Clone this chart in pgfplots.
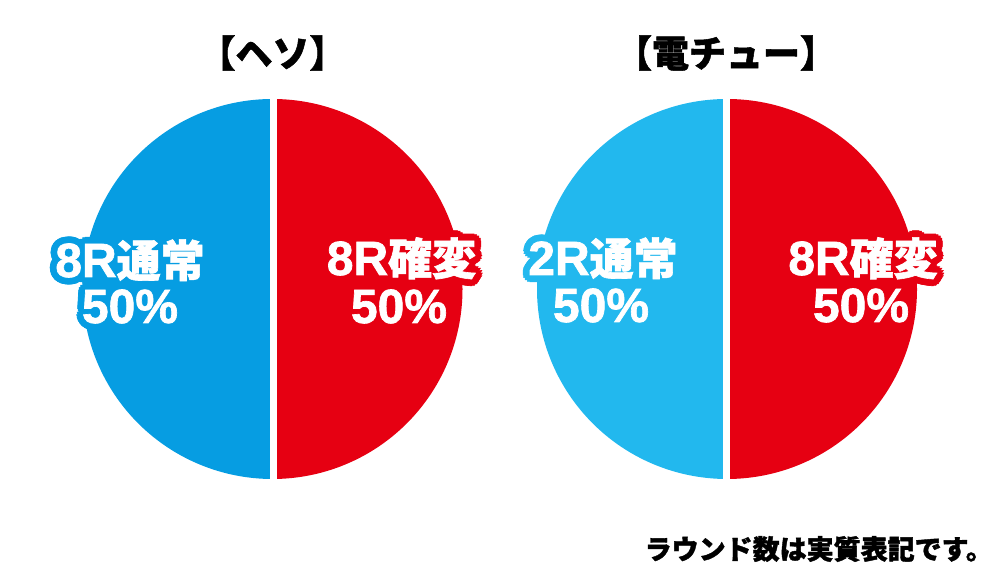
\documentclass[border=0pt]{standalone}
\usepackage{fontspec}
\usepackage{pgfplots}
\usepackage{pgfplotstable}
\pgfplotsset{compat=1.18}
\setmainfont{Noto Sans CJK JP}
\newfontfamily\jp{Noto Sans CJK JP}[BoldFeatures={FakeBold=1.4}]
\newfontfamily\lat{Liberation Sans}[BoldFeatures={FakeBold=1.4}]

\definecolor{hesoblue}{RGB}{6,157,226}
\definecolor{denblue}{RGB}{34,184,238}
\definecolor{kred}{RGB}{230,0,18}

% share of each slice in percent
\pgfplotstableread{
pie slice share
heso kakuhen 50
heso tsujo   50
den  kakuhen 50
den  tsujo   50
}\shares

\pgfplotstablegetelem{0}{share}\of\shares \let\hesoK\pgfplotsretval
\pgfplotstablegetelem{1}{share}\of\shares \let\hesoT\pgfplotsretval
\pgfplotstablegetelem{2}{share}\of\shares \let\denK\pgfplotsretval
\pgfplotstablegetelem{3}{share}\of\shares \let\denT\pgfplotsretval

% white text with an outline in colour #3, baseline at (#1,#2)
\newcommand\otext[4]{%
  \pgfplotsinvokeforeach{0,22.5,...,337.5}{%
    \node[anchor=base, text=#3, xshift={3.4pt*cos(##1)}, yshift={3.4pt*sin(##1)}]
      at (axis cs:#1,#2) {#4};
    \node[anchor=base, text=#3, xshift={1.7pt*cos(##1)}, yshift={1.7pt*sin(##1)}]
      at (axis cs:#1,#2) {#4};
  }
  \node[anchor=base, text=white] at (axis cs:#1,#2) {#4};
}
\newcommand\lab[2]{{\lat\bfseries\fontsize{24}{24}\selectfont #1}{\jp\bfseries\fontsize{22}{22}\selectfont #2}}
\newcommand\pct{{\lat\bfseries\fontsize{24}{24}\selectfont 50\%}}

\begin{document}
\begin{tikzpicture}
\begin{axis}[
  name=main,
  width=500pt, height=288.5pt, scale only axis,
  xmin=0, xmax=1000, ymin=0, ymax=577,
  hide axis, clip=false,
]
% left pie (center 272.5, 288)
\fill[kred] (axis cs:272.5,288) -- ++(90:95pt)
  arc[start angle=90, delta angle=-3.6*\hesoK, radius=95pt] -- cycle;
\fill[hesoblue] (axis cs:272.5,288) -- ++(90:95pt)
  arc[start angle=90, delta angle=3.6*\hesoT, radius=95pt] -- cycle;
\draw[white, line width=3.3pt] (axis cs:273.3,85) -- (axis cs:273.3,491);
% right pie (center 727, 288)
\fill[kred] (axis cs:727,288) -- ++(90:95pt)
  arc[start angle=90, delta angle=-3.6*\denK, radius=95pt] -- cycle;
\fill[denblue] (axis cs:727,288) -- ++(90:95pt)
  arc[start angle=90, delta angle=3.6*\denT, radius=95pt] -- cycle;
\draw[white, line width=3.3pt] (axis cs:726.7,85) -- (axis cs:726.7,491);

% labels (y = 577 - pixel row)
\otext{130}{300}{hesoblue}{\lab{8R}{通常}}
\otext{130}{254}{hesoblue}{\pct}
\otext{401.5}{302}{kred}{\lab{8R}{確変}}
\otext{399}{254}{kred}{\pct}
\otext{603}{302}{denblue}{\lab{2R}{通常}}
\otext{601}{255}{denblue}{\pct}
\otext{863}{302}{kred}{\lab{8R}{確変}}
\otext{861}{255}{kred}{\pct}

% titles
\node[font=\jp\bfseries\fontsize{18.5}{18.5}\selectfont] at (axis cs:272.5,524) {【ヘソ】};
\node[font=\jp\bfseries\fontsize{18.5}{18.5}\selectfont] at (axis cs:726,524) {【電チュー】};
\node[anchor=east, font=\jp\bfseries\fontsize{13.5}{13.5}\selectfont] at (axis cs:1000,28) {ラウンド数は実質表記です。};
\end{axis}
\pgfresetboundingbox
\path (main.south west) rectangle (main.north east);
\end{tikzpicture}
\end{document}
